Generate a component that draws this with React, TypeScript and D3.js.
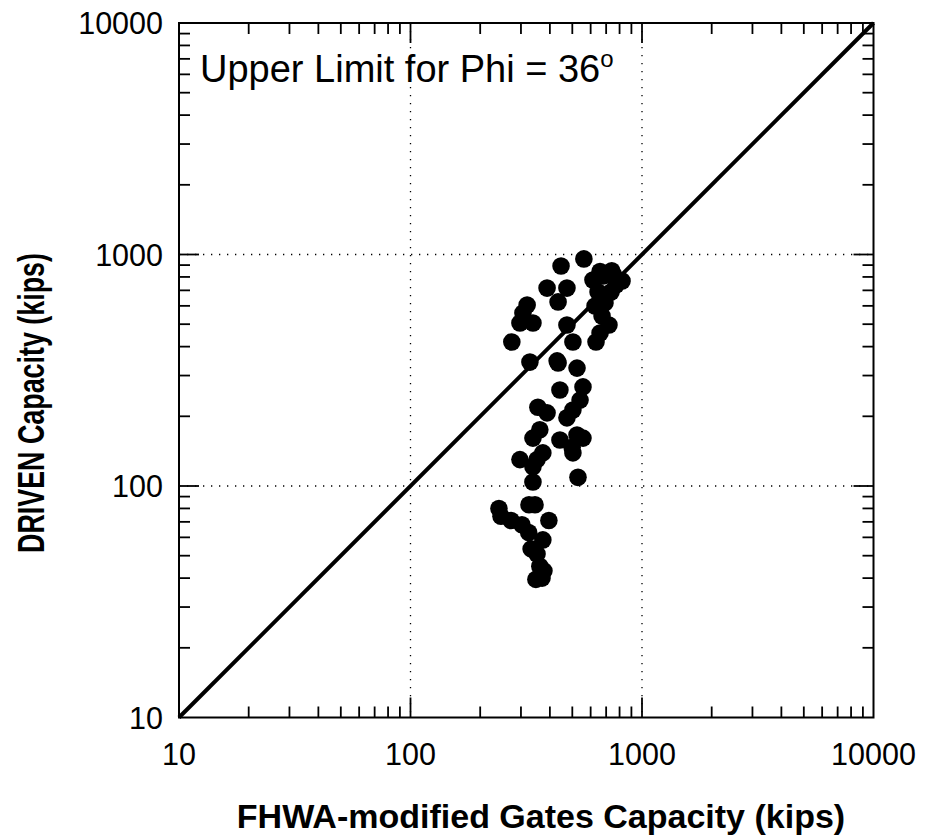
import React from "react";
import * as d3 from "d3";

// FHWA-modified Gates capacity (kips) and DRIVEN capacity (kips)
const gatesCapacity: number[] = [
  561, 447, 389, 474, 434, 319, 306, 297, 338, 274, 328, 430, 474, 503, 524,
  614, 679, 750, 820, 646, 735, 692, 627, 672, 720, 659, 633, 772, 659, 740,
  434, 556, 442, 540, 503, 474, 355, 389, 362, 338, 442, 524, 556, 499, 503,
  297, 352, 373, 338, 338, 529,
  241, 246, 272, 303, 324, 325, 345, 396, 332, 352, 373, 362, 377, 348, 370,
];
const drivenCapacity: number[] = [
  957, 892, 716, 716, 624, 605, 559, 506, 506, 419, 343, 347, 496, 419, 323,
  776, 807, 824, 769, 689, 689, 618, 599, 542, 496, 458, 419, 738, 845, 850,
  340, 268, 260, 235, 213, 197, 219, 207, 175, 161, 158, 166, 161, 147, 139,
  130, 130, 139, 121, 104, 109,
  80, 74, 71, 68, 63, 83, 83, 71, 53.5, 50.8, 58.5, 45, 43, 39.5, 40,
];
const tickValues: number[] = [10, 100, 1000, 10000];
const tickLabels: string[] = ["10", "100", "1000", "10000"];
const gridValues: number[] = [100, 1000];
const xTitle = "FHWA-modified Gates Capacity (kips)";
const yTitle = "DRIVEN Capacity (kips)";
const noteText = "Upper Limit for Phi = 36";

const FONT = "'Liberation Sans', Arial, Helvetica, sans-serif";

export default function App() {
  const W = 926;
  const H = 838;
  const left = 179;
  const right = 873.5;
  const top = 23;
  const bottom = 717.5;

  const x = d3.scaleLog().domain([10, 10000]).range([left, right]);
  const y = d3.scaleLog().domain([10, 10000]).range([bottom, top]);

  const minor: number[] = [];
  [10, 100, 1000].forEach((d) => {
    for (let k = 2; k <= 9; k++) minor.push(d * k);
  });
  const major = [100, 1000];
  const minLen = 11;
  const majLen = 20;

  const points = gatesCapacity.map((g, i) => ({ g, d: drivenCapacity[i] }));

  return (
    <svg
      width={W}
      height={H}
      style={{ position: "absolute", left: 0, top: 0, background: "#fff" }}
      fontFamily={FONT}
    >
      <rect x={0} y={0} width={W} height={H} fill="#fff" />
      {/* grid */}
      {gridValues.map((v) => (
        <g key={"g" + v}>
          <line
            x1={x(v)}
            x2={x(v)}
            y1={top}
            y2={bottom}
            stroke="#000"
            strokeWidth={1.3}
            strokeDasharray="1.3 6.7"
          />
          <line
            x1={left}
            x2={right}
            y1={y(v)}
            y2={y(v)}
            stroke="#000"
            strokeWidth={1.3}
            strokeDasharray="1.3 6.7"
          />
        </g>
      ))}
      {/* ticks */}
      {minor.concat(major).map((v) => {
        const len = major.includes(v) ? majLen : minLen;
        return (
          <g key={"t" + v} stroke="#000" strokeWidth={1.8}>
            <line x1={x(v)} x2={x(v)} y1={bottom} y2={bottom - len} />
            <line x1={x(v)} x2={x(v)} y1={top} y2={top + len} />
            <line x1={left} x2={left + len} y1={y(v)} y2={y(v)} />
            <line x1={right} x2={right - len} y1={y(v)} y2={y(v)} />
          </g>
        );
      })}
      {/* frame */}
      <rect
        x={left}
        y={top}
        width={right - left}
        height={bottom - top}
        fill="none"
        stroke="#000"
        strokeWidth={2}
      />
      {/* 1:1 line */}
      <line
        x1={x(10)}
        y1={y(10)}
        x2={x(10000)}
        y2={y(10000)}
        stroke="#000"
        strokeWidth={4}
      />
      {/* points */}
      {points.map((p, i) => (
        <circle key={"p" + i} cx={x(p.g)} cy={y(p.d)} r={8.8} fill="#000" />
      ))}
      {/* tick labels */}
      {tickValues.map((v, i) => (
        <text
          key={"xl" + v}
          x={x(v)}
          y={765}
          textAnchor="middle"
          fontSize={30.5}
          fill="#000"
        >
          {tickLabels[i]}
        </text>
      ))}
      {tickValues.map((v, i) => (
        <text
          key={"yl" + v}
          x={163}
          y={y(v) + 11}
          textAnchor="end"
          fontSize={30.5}
          fill="#000"
        >
          {tickLabels[i]}
        </text>
      ))}
      {/* titles */}
      <text
        x={541}
        y={828}
        textAnchor="middle"
        fontSize={34}
        fontWeight="bold"
        fill="#000"
      >
        {xTitle}
      </text>
      <text
        transform={`translate(44,403) rotate(-90)`}
        textAnchor="middle"
        fontSize={36}
        fontWeight="bold"
        fill="#000"
        textLength={300}
        lengthAdjust="spacingAndGlyphs"
      >
        {yTitle}
      </text>
      {/* annotation */}
      <text x={200} y={82} fontSize={38} fill="#000">
        {noteText}
        <tspan fontSize={24} dy={-15}>
          o
        </tspan>
      </text>
    </svg>
  );
}
